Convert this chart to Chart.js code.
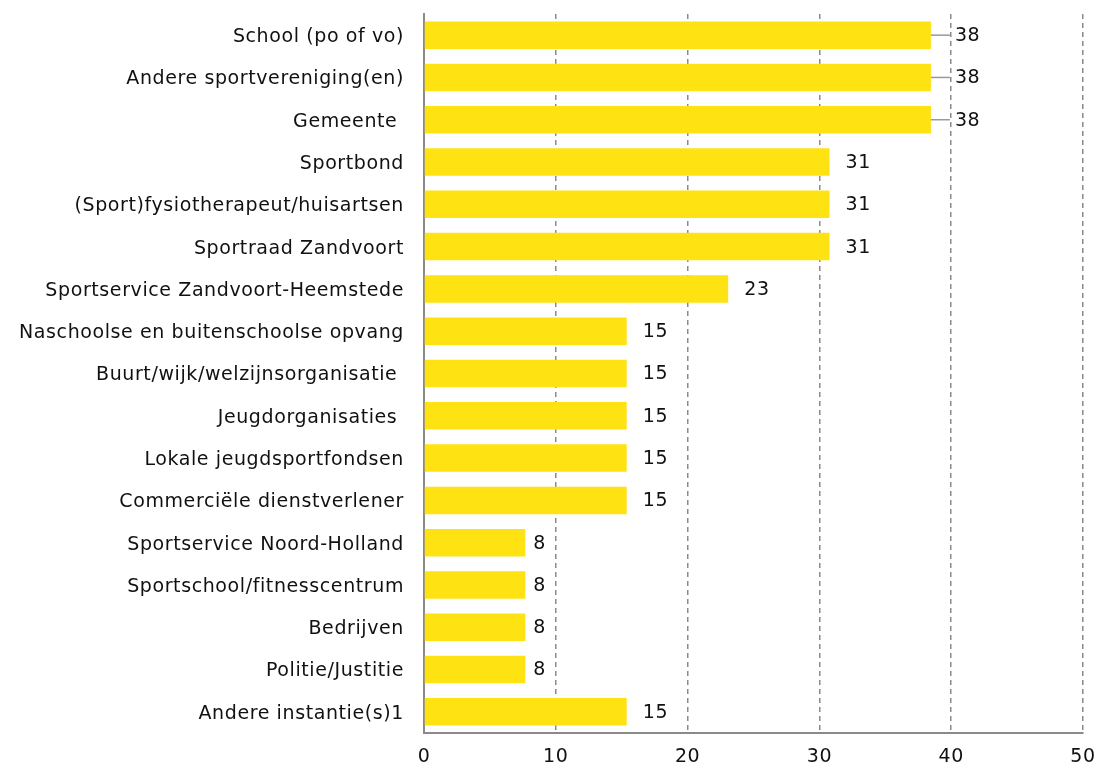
<!DOCTYPE html>
<html>
<head>
<meta charset="utf-8">
<script src="https://cdn.jsdelivr.net/npm/chart.js@4"></script>
<style>
  html, body { margin: 0; padding: 0; background: #fff; }
  #wrap { width: 1099px; height: 769px; }
</style>
</head>
<body>
<div id="wrap"><canvas id="barChart" width="1099" height="769"></canvas></div>
<script>
  const categories = [
    'School (po of vo)',
    'Andere sportvereniging(en)',
    'Gemeente ',
    'Sportbond',
    '(Sport)fysiotherapeut/huisartsen',
    'Sportraad Zandvoort',
    'Sportservice Zandvoort-Heemstede',
    'Naschoolse en buitenschoolse opvang',
    'Buurt/wijk/welzijnsorganisatie ',
    'Jeugdorganisaties ',
    'Lokale jeugdsportfondsen',
    'Commerciële dienstverlener',
    'Sportservice Noord-Holland',
    'Sportschool/fitnesscentrum',
    'Bedrijven',
    'Politie/Justitie',
    'Andere instantie(s)1'
  ];
  const percentages = [38.46, 38.46, 38.46, 30.77, 30.77, 30.77, 23.08, 15.38, 15.38, 15.38, 15.38, 15.38, 7.69, 7.69, 7.69, 7.69, 15.38];
  const xTicks = [0, 10, 20, 30, 40, 50];

  const fontFamily = '"DejaVu Sans", Verdana, sans-serif';
  const spacing = '0.6px';

  // wider text, like the original's font
  const letterSpacing = {
    id: 'letterSpacing',
    beforeLayout(chart) { chart.ctx.letterSpacing = spacing; },
    beforeDraw(chart) { chart.ctx.letterSpacing = spacing; }
  };

  // values at the end of every bar, with a small leader line for the longest bars
  const valueLabels = {
    id: 'valueLabels',
    afterDatasetsDraw(chart) {
      const ctx = chart.ctx;
      const meta = chart.getDatasetMeta(0);
      ctx.save();
      ctx.font = '19px ' + fontFamily;
      ctx.fillStyle = '#111';
      ctx.textBaseline = 'middle';
      meta.data.forEach((bar, i) => {
        const v = percentages[i];
        let x = bar.x + 16;
        if (v > 35) {
          ctx.strokeStyle = '#999';
          ctx.lineWidth = 1.5;
          ctx.beginPath();
          ctx.moveTo(bar.x, bar.y);
          ctx.lineTo(bar.x + 19, bar.y);
          ctx.stroke();
          x = bar.x + 24;
        } else if (v < 10) {
          x = bar.x + 8;
        }
        ctx.fillText(Math.round(v), x, bar.y + 1);
      });
      ctx.restore();
    }
  };

  const ctx = document.getElementById('barChart').getContext('2d');
  const chart = new Chart(ctx, {
    type: 'bar',
    data: {
      labels: categories,
      datasets: [{
        data: percentages,
        backgroundColor: '#FFE212',
        barPercentage: 0.65,
        categoryPercentage: 1.0
      }]
    },
    plugins: [letterSpacing, valueLabels],
    options: {
      indexAxis: 'y',
      responsive: false,
      animation: false,
      layout: { padding: { top: 14, right: 16, left: 0, bottom: 0 } },
      plugins: {
        legend: { display: false },
        tooltip: { enabled: false }
      },
      scales: {
        x: {
          min: 0,
          max: 50,
          afterBuildTicks(scale) {
            scale.ticks = xTicks.map(v => ({ value: v }));
          },
          afterFit(scale) {
            scale.height = 36;
            scale.paddingLeft = 0;
            scale.paddingRight = 0;
          },
          grid: {
            color: c => c.index === 0 ? 'rgba(0,0,0,0)' : '#8a8a8a',
            lineWidth: 1.5,
            drawTicks: false
          },
          border: { display: true, color: '#8a8a8a', width: 2, dash: [5, 4] },
          ticks: {
            color: '#111',
            padding: 13,
            font: { size: 19, family: fontFamily }
          }
        },
        y: {
          afterFit(scale) {
            scale.width = 424;
            scale.paddingTop = 0;
            scale.paddingBottom = 0;
          },
          grid: { display: false, drawTicks: false },
          border: { display: true, color: '#8a8a8a', width: 2 },
          ticks: {
            color: '#111',
            padding: 20,
            labelOffset: 2,
            font: { size: 19, family: fontFamily }
          }
        }
      }
    }
  });
</script>
</body>
</html>
